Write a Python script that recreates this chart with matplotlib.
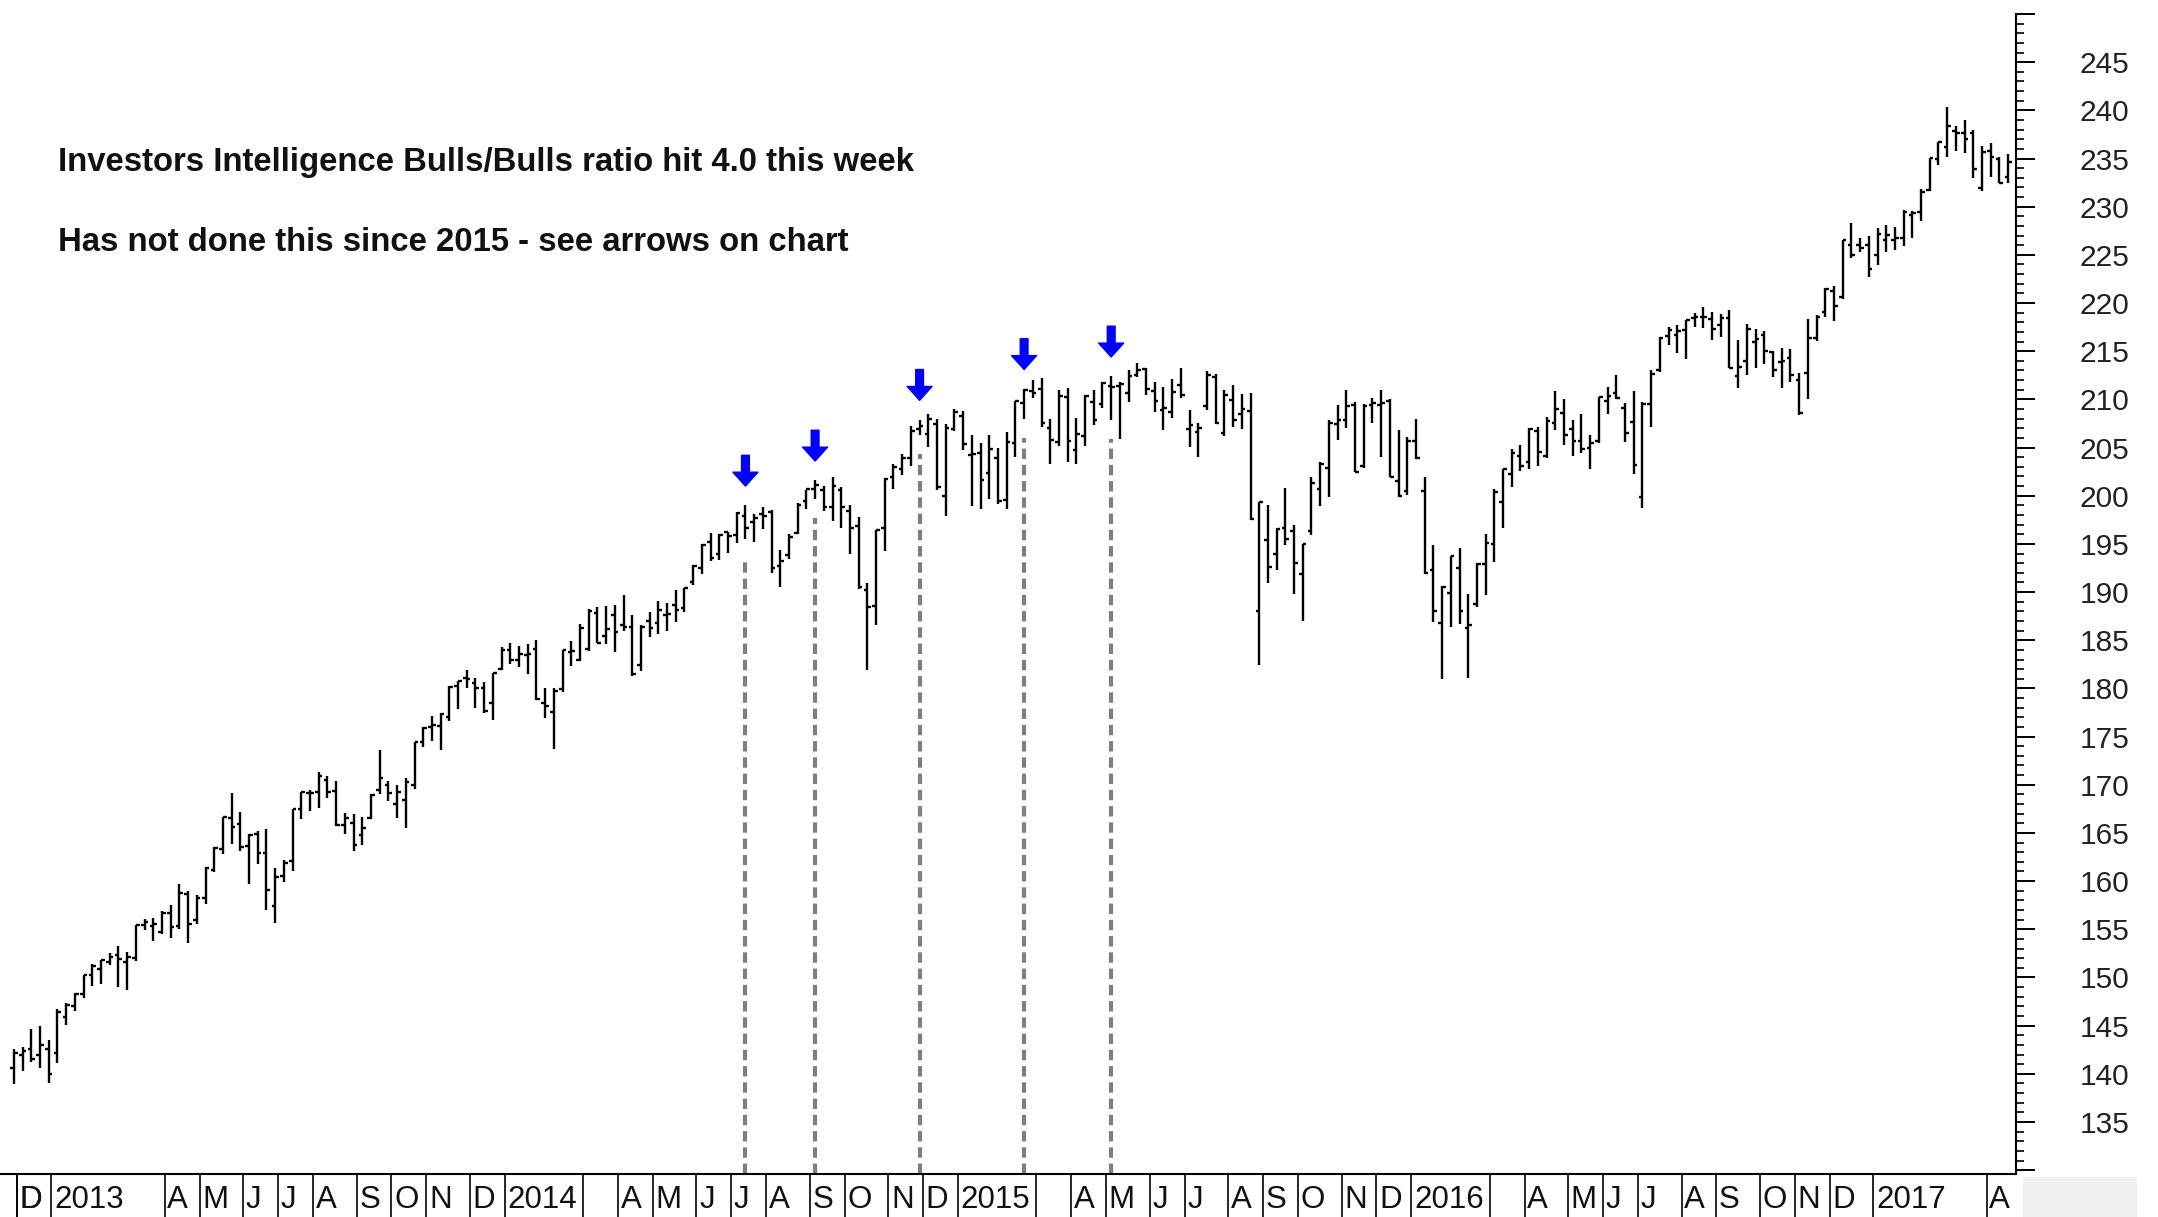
import matplotlib
matplotlib.use("Agg")
import matplotlib.pyplot as plt
import matplotlib.ticker as mticker
from matplotlib.patches import Rectangle
import numpy as np
import pandas as pd

# weekly bars, week ending Friday, first week 2012-11-30
first_week = "2012-11-30"

opens = [
    140.6, 142.0, 142.6, 142.0, 142.6,
    142.2, 145.9, 147.0, 148.3, 150.3, 150.9, 151.6, 152.3, 151.6, 152.0, 155.4, 155.3, 154.7,
    156.7, 155.3, 158.7, 156.0, 158.2, 161.2, 163.3, 166.5, 165.9, 163.6, 164.9, 162.9, 157.4,
    160.5, 162.1, 167.5, 169.1, 169.2, 170.5, 169.4, 165.8, 166.0, 164.8, 166.5, 169.5, 170.0,
    168.0, 168.4, 170.0, 174.4, 176.0, 176.1, 177.0, 180.3, 181.1, 180.6, 180.0, 178.5, 182.0,
    184.0, 183.0, 183.5, 184.1, 178.5, 177.6, 179.9, 183.8, 183.0, 184.1, 187.8, 185.4, 187.6,
    186.6, 186.4, 182.4, 187.0, 186.8, 187.6, 188.7, 188.3, 191.0, 192.5, 195.2, 193.9, 196.2,
    195.9, 197.9, 197.3, 198.1, 198.3, 192.7, 193.8, 196.1, 199.5, 200.7, 200.6, 198.8, 200.6,
    198.4, 196.9, 190.2, 188.6, 196.6, 201.9, 202.8, 203.9, 206.9, 206.4, 207.4, 200.0, 206.9,
    208.3, 204.2, 204.4, 202.4, 203.9, 199.6, 205.5, 209.6, 210.9, 211.1, 207.0, 205.6, 210.2,
    204.7, 206.2, 209.7, 209.5, 211.4, 211.4, 210.7, 212.5, 213.2, 210.9, 208.9, 208.7, 211.5,
    206.9, 206.6, 209.3, 212.3, 206.5, 209.9, 208.5, 208.8, 188.0, 195.4, 194.0, 196.7, 196.3,
    191.9, 196.3, 200.7, 202.9, 207.4, 207.9, 209.4, 203.1, 209.4, 209.4, 209.8, 201.5, 200.5,
    205.7, 200.5, 192.3, 186.8, 189.9, 192.5, 186.3, 188.8, 192.9, 195.0, 199.4, 202.3, 204.1,
    203.5, 206.7, 204.1, 207.6, 208.6, 206.9, 205.7, 205.0, 205.7, 209.8, 210.7, 209.1, 207.7,
    199.9, 209.5, 213.0, 216.6, 216.7, 217.2, 218.4, 218.5, 218.3, 217.7, 218.4, 212.4, 214.0,
    216.0, 216.7, 214.9, 213.9, 214.3, 212.0, 212.7, 216.4, 219.1, 221.2, 220.6, 226.0, 226.0,
    226.0, 225.0, 226.5, 226.5, 226.7, 229.1, 229.4, 231.7, 235.0, 236.2, 237.9, 237.6, 237.7,
    231.9, 235.8, 234.9, 233.1,
]
highs = [
    142.6, 142.8, 144.7, 145.0, 143.5,
    146.7, 147.3, 148.4, 150.3, 151.4, 151.8, 152.5, 153.3, 152.6, 155.4, 156.1, 156.2, 156.9,
    157.5, 159.7, 159.0, 158.6, 161.5, 163.5, 166.7, 169.1, 167.2, 164.9, 165.2, 165.4, 161.4,
    162.2, 167.5, 169.2, 169.5, 171.3, 170.9, 170.4, 167.1, 167.0, 166.7, 169.0, 173.6, 170.4,
    170.0, 170.7, 174.4, 176.0, 177.1, 177.5, 180.2, 180.8, 181.9, 181.1, 180.7, 181.6, 184.3,
    184.7, 184.4, 184.6, 185.0, 180.0, 180.0, 184.0, 184.9, 186.7, 188.2, 188.4, 188.6, 188.7,
    189.7, 187.6, 186.6, 187.9, 189.1, 188.9, 190.2, 190.4, 192.8, 195.0, 196.1, 196.0, 196.2,
    198.3, 199.0, 198.1, 198.8, 198.5, 194.4, 196.0, 199.2, 200.6, 201.6, 201.0, 201.9, 200.9,
    199.0, 197.8, 190.9, 196.4, 201.8, 203.3, 204.3, 207.2, 207.9, 208.5, 208.0, 207.4, 209.0,
    208.8, 206.3, 205.5, 206.3, 205.0, 206.6, 209.8, 211.1, 212.0, 212.2, 208.0, 211.0, 211.2,
    208.1, 210.5, 211.0, 211.8, 212.4, 211.8, 213.0, 213.8, 213.3, 211.8, 211.3, 212.1, 213.3,
    208.9, 207.6, 212.9, 212.6, 211.0, 211.5, 210.6, 210.7, 199.4, 199.0, 196.6, 200.8, 197.0,
    195.0, 201.9, 203.5, 207.9, 209.4, 211.0, 209.7, 209.5, 210.1, 211.0, 210.0, 206.8, 206.1,
    208.0, 201.9, 194.9, 190.6, 193.7, 194.6, 189.8, 193.0, 196.0, 200.7, 202.8, 204.9, 205.3,
    207.0, 207.1, 208.2, 210.9, 210.0, 207.9, 208.5, 206.3, 210.2, 211.3, 212.5, 209.6, 210.9,
    209.7, 213.0, 216.5, 217.5, 217.7, 218.2, 219.0, 219.6, 219.1, 218.9, 219.3, 216.2, 217.8,
    217.3, 217.1, 215.0, 215.3, 215.2, 212.7, 218.3, 218.8, 221.6, 221.8, 226.5, 228.3, 226.8,
    227.0, 227.8, 228.1, 227.9, 229.7, 229.6, 231.8, 235.1, 236.7, 240.3, 238.4, 239.0, 238.0,
    236.3, 236.6, 235.2, 235.5,
]
lows = [
    138.9, 140.3, 141.2, 140.6, 139.0,
    141.1, 145.1, 146.5, 147.9, 149.1, 149.3, 151.3, 149.0, 148.7, 151.7, 154.9, 153.8, 154.5,
    154.1, 155.0, 153.6, 155.5, 157.6, 160.9, 162.8, 163.8, 163.1, 159.7, 161.8, 157.0, 155.7,
    159.9, 161.0, 166.4, 167.3, 167.6, 168.6, 165.7, 164.9, 163.1, 163.7, 166.4, 169.0, 168.3,
    166.6, 165.5, 169.6, 173.9, 174.5, 173.6, 176.6, 177.9, 180.0, 178.0, 177.5, 176.7, 181.9,
    182.5, 182.2, 181.5, 178.8, 176.9, 173.7, 179.6, 182.3, 182.8, 183.9, 184.7, 184.6, 183.8,
    186.0, 181.3, 181.8, 185.3, 185.7, 186.0, 186.9, 187.9, 190.7, 191.9, 193.2, 193.3, 194.1,
    195.1, 195.5, 195.2, 196.5, 192.0, 190.5, 193.4, 196.0, 198.6, 199.7, 198.4, 197.4, 196.6,
    194.0, 190.3, 181.9, 186.6, 194.3, 200.7, 202.2, 203.1, 206.3, 205.1, 200.6, 197.9, 206.7,
    204.7, 198.9, 198.6, 199.7, 199.1, 198.6, 204.0, 208.0, 210.1, 207.1, 203.3, 205.2, 203.5,
    203.3, 205.2, 207.3, 209.1, 207.9, 205.9, 209.7, 212.3, 210.5, 208.7, 206.8, 208.1, 210.1,
    205.1, 204.0, 208.9, 207.4, 206.2, 207.1, 206.9, 197.5, 182.4, 190.9, 192.3, 194.9, 189.8,
    187.0, 195.9, 198.9, 199.9, 205.8, 207.0, 202.5, 202.9, 207.5, 204.0, 201.9, 199.9, 200.1,
    203.8, 191.9, 186.9, 181.0, 186.4, 186.7, 181.1, 188.4, 189.7, 193.1, 196.7, 200.9, 202.6,
    202.8, 203.1, 203.9, 206.8, 205.3, 204.1, 204.4, 202.8, 205.5, 208.5, 210.0, 205.6, 202.3,
    198.7, 207.1, 212.8, 215.6, 214.8, 214.2, 217.5, 217.4, 216.2, 216.5, 213.3, 211.2, 212.5,
    213.3, 213.7, 212.3, 211.2, 211.8, 208.4, 210.0, 216.1, 218.5, 218.1, 220.4, 224.7, 225.3,
    222.7, 223.9, 225.3, 225.5, 225.9, 226.8, 228.5, 231.6, 234.3, 235.2, 235.8, 235.6, 233.0,
    231.6, 233.1, 232.5, 232.5,
]
closes = [
    142.2, 142.4, 141.5, 143.0, 140.0,
    146.4, 147.1, 148.3, 150.3, 151.2, 151.8, 152.1, 151.9, 152.1, 155.4, 155.8, 155.6, 156.7,
    155.2, 158.8, 155.5, 158.2, 161.4, 163.4, 166.7, 165.6, 163.5, 164.8, 162.9, 159.1, 160.4,
    161.9, 167.5, 169.2, 169.1, 170.9, 169.3, 165.8, 166.6, 163.7, 165.5, 168.9, 170.7, 169.1,
    169.2, 170.3, 174.4, 175.9, 176.2, 177.3, 180.1, 180.8, 181.0, 180.0, 177.7, 181.6, 184.0,
    182.9, 183.6, 183.6, 178.9, 178.2, 179.7, 184.0, 183.9, 186.3, 188.0, 184.7, 186.2, 185.9,
    186.4, 181.5, 186.4, 186.3, 188.1, 187.7, 188.1, 190.4, 192.7, 194.9, 193.5, 195.9, 195.8,
    198.2, 196.6, 197.7, 197.9, 192.5, 193.2, 195.7, 199.0, 200.7, 201.1, 198.8, 201.0, 198.8,
    196.6, 190.5, 188.5, 196.4, 201.7, 203.0, 203.9, 206.7, 207.2, 208.0, 200.9, 207.0, 208.7,
    205.4, 204.3, 201.6, 204.9, 199.5, 205.6, 209.8, 211.0, 210.7, 207.5, 205.8, 210.4, 205.7,
    206.4, 210.4, 207.9, 211.7, 211.3, 211.6, 212.4, 213.0, 211.1, 209.8, 209.1, 210.8, 210.5,
    207.3, 207.0, 212.5, 207.5, 210.5, 207.9, 209.0, 197.6, 199.3, 192.6, 196.5, 195.5, 193.0,
    195.0, 201.3, 203.3, 207.5, 207.9, 209.3, 202.5, 209.3, 209.6, 209.6, 201.9, 200.0, 205.7,
    203.9, 192.0, 188.0, 190.5, 193.7, 188.0, 186.6, 192.9, 195.1, 200.4, 202.8, 204.4, 203.1,
    206.9, 204.5, 207.8, 209.0, 206.3, 205.7, 204.8, 205.5, 210.2, 210.3, 210.1, 206.5, 203.2,
    209.5, 212.6, 216.4, 217.2, 217.1, 218.2, 218.5, 218.5, 217.3, 218.4, 213.3, 213.4, 217.3,
    216.3, 215.0, 213.1, 214.0, 212.5, 208.6, 216.4, 218.5, 221.5, 219.7, 226.5, 225.0, 225.7,
    223.5, 227.2, 227.1, 226.7, 229.4, 229.3, 231.5, 235.1, 236.7, 238.4, 237.7, 237.0, 233.9,
    235.7, 235.2, 232.5, 234.6,
]

# weeks where the II bulls/bears ratio hit 4.0
arrow_weeks = ["2014-07-11", "2014-09-05", "2014-11-28", "2015-02-20", "2015-05-01"]

note_lines = [
    "Investors Intelligence Bulls/Bulls ratio hit 4.0 this week",
    "Has not done this since 2015 - see arrows on chart",
]
month_letters = ["", "", "", "A", "M", "J", "J", "A", "S", "O", "N", "D"]

weeks = pd.date_range(first_week, periods=len(closes), freq="W-FRI")
x = np.arange(len(weeks))

W, H = 2158, 1217
fig = plt.figure(figsize=(W / 100, H / 100), dpi=100)
ax_right = 2016 / W
ax_bottom = 1 - 1174 / H
ax_top = 1 - 14 / H
ax = fig.add_axes([0, ax_bottom, ax_right, ax_top - ax_bottom])

xmin, xmax = -1.6, len(weeks) - 0.1
ymin, ymax = 129.6, 250.0

# dashed guide lines under the arrow weeks
for d in arrow_weeks:
    i = weeks.get_loc(pd.Timestamp(d))
    ax.vlines(i, ymin, lows[i] - 2.0, color="#7f7f7f", lw=3.0,
              linestyles=(0, (2.5, 1.4)), zorder=1)

# OHLC bars
bar_lw = 1.7
ax.vlines(x, lows, highs, color="black", lw=bar_lw, zorder=3)
ax.hlines(opens, x - 0.42, x, color="black", lw=bar_lw, zorder=3)
ax.hlines(closes, x, x + 0.42, color="black", lw=bar_lw, zorder=3)

# blue arrows
for d in arrow_weeks:
    i = weeks.get_loc(pd.Timestamp(d))
    tip = highs[i] + 2.0
    ax.annotate("", xy=(i, tip), xytext=(i, tip + 3.2),
                arrowprops=dict(arrowstyle="simple,head_length=0.5,head_width=0.9,tail_width=0.28",
                                color="#0000ff", shrinkA=0, shrinkB=0, mutation_scale=20),
                zorder=4)

ax.set_xlim(xmin, xmax)
ax.set_ylim(ymin, ymax)
ax.set_xticks([])

ax.yaxis.tick_right()
ax.yaxis.set_major_locator(mticker.MultipleLocator(5))
ax.yaxis.set_minor_locator(mticker.MultipleLocator(1))
ax.yaxis.set_major_formatter(mticker.FuncFormatter(
    lambda v, p: "" if v < 134 or v > 246 else "%d" % v))
ax.tick_params(axis="y", which="major", length=14, width=1.4, pad=32,
               labelsize=21.5, labelcolor="#222222")
ax.tick_params(axis="y", which="minor", length=5.5, width=1.2)
for lab in ax.get_yticklabels():
    lab.set_family("Liberation Sans")
ax.spines["left"].set_visible(False)
ax.spines["top"].set_visible(False)
ax.spines["right"].set_linewidth(1.5)
ax.spines["bottom"].set_linewidth(1.5)

# notes
note_font = dict(fontsize=23.7, fontweight="bold", family=["Liberation Sans"],
                 va="center", color="#111111")
fig.text(58 / W, 1 - 162 / H, note_lines[0], **note_font)
fig.text(58 / W, 1 - 242 / H, note_lines[1], **note_font)

# month strip under the chart
sx = fig.add_axes([0, 0, ax_right + 2 / W, ax_bottom])
sx.set_xlim(xmin, xmax)
sx.set_ylim(0, 1)
sx.axis("off")
strip_font = dict(fontsize=22.5, va="bottom", ha="left",
                  family=["Liberation Sans"], color="#111111")
jan_i = -100
for i in range(1, len(weeks)):
    if weeks[i].month == weeks[i - 1].month:
        continue
    m = weeks[i].month
    pos = i - 0.7
    if m == 1:
        jan_i = i
    # Feb / Mar separators are hidden behind the year label
    if m == 2 or (m == 3 and i - jan_i < 9):
        continue
    sx.vlines(pos, 0, 1, color="black", lw=1.2)
    label = str(weeks[i].year) if m == 1 else month_letters[m - 1]
    if label:
        sx.text(pos + 0.3, 0.04, label, **strip_font)
# first partial month of the chart
sx.vlines(0.3, 0, 1, color="black", lw=1.2)
sx.text(0.6, 0.04, "D", **strip_font)

fig.patches.append(Rectangle((2023 / W, 0), 114 / W, 40 / H, transform=fig.transFigure,
                             facecolor="#efefef", edgecolor="none"))

fig.savefig("out.png", dpi=100)
